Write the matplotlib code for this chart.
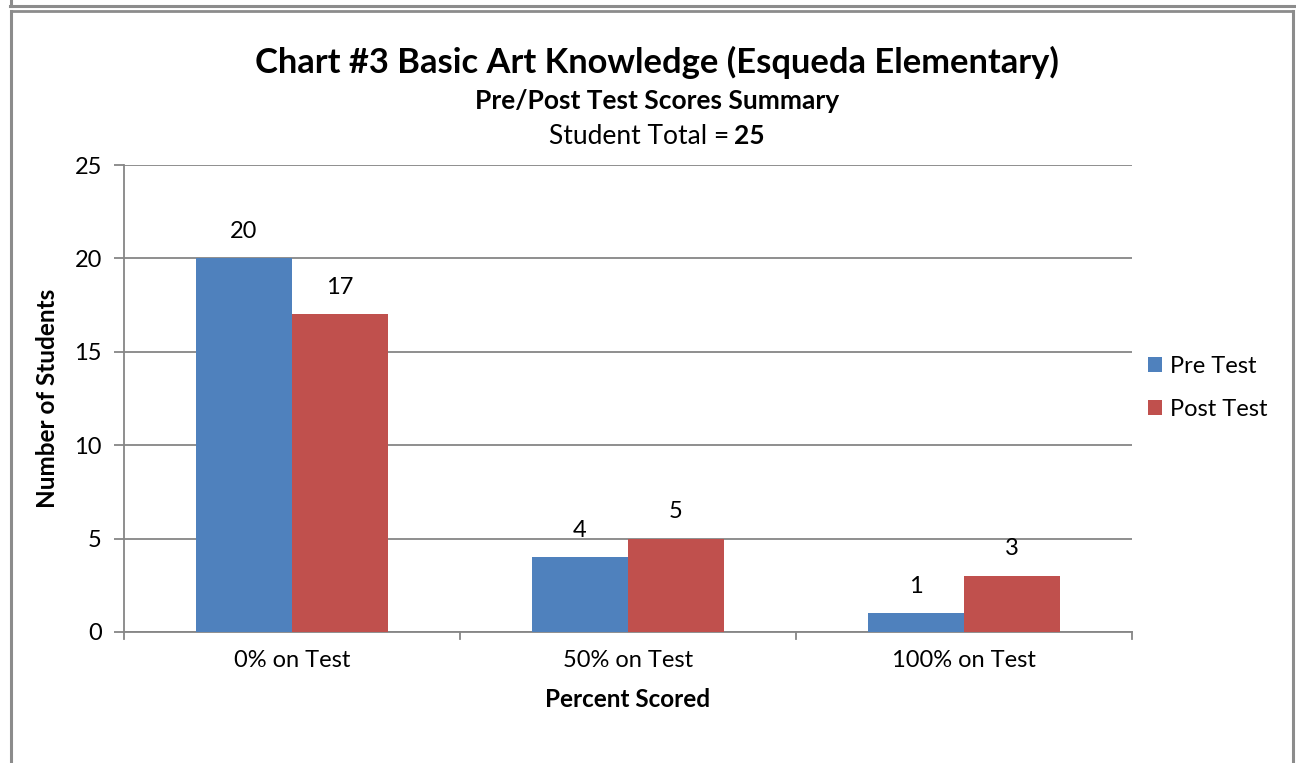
import matplotlib.pyplot as plt
import numpy as np
from matplotlib.lines import Line2D

categories = ["0% on Test", "50% on Test", "100% on Test"]
pre_test = [20, 4, 1]
post_test = [17, 5, 3]
series_names = ["Pre Test", "Post Test"]

plt.rcParams['font.family'] = ['Lato', 'DejaVu Sans']

W, H = 1296, 763
fig = plt.figure(figsize=(W / 100, H / 100), dpi=100)

def fx(px):
    return px / W

def fy(py):
    return 1 - py / H

# frame lines around the chart
border = "#8c8c8c"
fig.add_artist(Line2D([fx(10), 1], [fy(5.5), fy(5.5)], color=border, lw=2.2))
fig.add_artist(Line2D([fx(11), fx(11)], [1, fy(5.5)], color=border, lw=2.2))
fig.add_artist(Line2D([fx(11), fx(1293)], [fy(10.5), fy(10.5)], color=border, lw=2))
fig.add_artist(Line2D([fx(11), fx(11)], [fy(10.5), 0], color=border, lw=2.2))
fig.add_artist(Line2D([fx(1293), fx(1293)], [fy(10.5), 0], color=border, lw=2.2))

ax = fig.add_axes([fx(124), fy(632), fx(1132) - fx(124), fy(165) - fy(632)])

x = np.arange(len(categories))
bw = 96 / 336
b1 = ax.bar(x - bw / 2, pre_test, bw, color="#4F81BD", label=series_names[0], zorder=3)
b2 = ax.bar(x + bw / 2, post_test, bw, color="#C0504D", label=series_names[1], zorder=3)

for bars in (b1, b2):
    for r in bars:
        ax.annotate(f"{int(r.get_height())}", (r.get_x() + r.get_width() / 2, r.get_height()),
                    xytext=(0, 19.5), textcoords="offset points", ha="center", va="center",
                    fontsize=17)

ax.set_xlim(-0.5, 2.5)
ax.set_ylim(0, 25)
ax.set_yticks([0, 5, 10, 15, 20, 25])
ax.yaxis.grid(True, color="#868686", lw=1.3, zorder=0)
ax.set_xticks(x)
ax.set_xticklabels(categories, fontsize=17)
ax.tick_params(axis="y", labelsize=17, length=7, width=1.3, color="#868686", pad=9)
ax.tick_params(axis="x", length=0, pad=13)
for t in [0.5, 1.5, 2.5, -0.5]:
    ax.plot([t, t], [0, -0.4], color="#868686", lw=1.3, clip_on=False, zorder=4)
for s in ["top", "right"]:
    ax.spines[s].set_visible(False)
for s in ["left", "bottom"]:
    ax.spines[s].set_color("#868686")
    ax.spines[s].set_linewidth(1.3)

ax.set_xlabel("Percent Scored", fontsize=17.5, fontweight="bold", labelpad=12)
ax.set_ylabel("Number of Students", fontsize=17.5, fontweight="bold", labelpad=11)

fig.text(fx(657), fy(62), "Chart #3 Basic Art Knowledge (Esqueda Elementary)",
         ha="center", va="center", fontsize=24.8, fontweight="bold")
fig.text(fx(657), fy(101), "Pre/Post Test Scores Summary",
         ha="center", va="center", fontsize=19, fontweight="bold")
fig.text(fx(729), fy(136), "Student Total =", ha="right", va="center", fontsize=19)
fig.text(fx(734), fy(136), "25", ha="left", va="center", fontsize=19, fontweight="bold")

fig.legend(handles=[b1, b2], loc="center left", bbox_to_anchor=(fx(1127), fy(388)),
           frameon=False, fontsize=17, handlelength=0.6, handleheight=0.6,
           handletextpad=0.3, labelspacing=0.95)

fig.savefig("out.png", dpi=100)
